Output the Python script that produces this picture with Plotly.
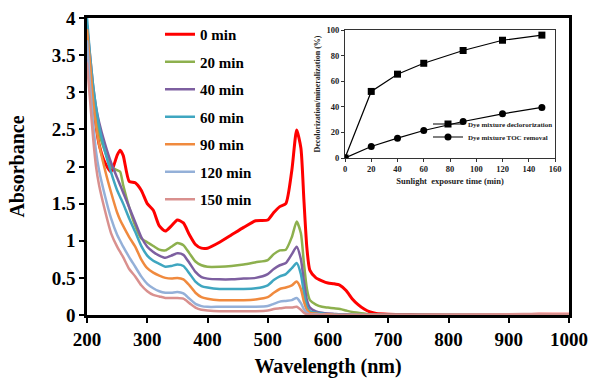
import plotly.graph_objects as go

# ---------------- data ----------------
wavelength = [200, 205, 210, 215, 220, 230, 240, 250, 255, 260, 270, 280, 290, 300, 310, 320, 330, 340, 350, 360,
              370, 380, 390, 400, 420, 440, 460, 480, 500, 510, 520, 530, 540, 548, 555, 560, 565, 570, 580, 590,
              600, 610, 620, 630, 640, 650, 660, 670, 680, 700, 750, 800, 900, 950, 1000]

abs_0 = [3.6, 3.3, 2.9, 2.55, 2.3, 2.05, 1.93, 2.15, 2.22, 2.15, 1.80, 1.78, 1.68, 1.50, 1.41, 1.20, 1.13, 1.20, 1.28, 1.24,
         1.08, 0.95, 0.90, 0.90, 0.98, 1.08, 1.18, 1.27, 1.28, 1.38, 1.46, 1.50, 1.95, 2.49, 2.25, 1.55, 0.90, 0.60, 0.50, 0.46,
         0.43, 0.42, 0.40, 0.33, 0.22, 0.14, 0.08, 0.04, 0.02, 0.01, 0.005, 0.0, 0.0, 0.01, 0.01]
abs_20 = [3.9, 3.3, 2.95, 2.65, 2.45, 2.2, 2.0, 1.95, 1.93, 1.75, 1.45, 1.2, 1.03, 0.98, 0.93, 0.88, 0.87, 0.92, 0.97, 0.94,
          0.83, 0.72, 0.67, 0.65, 0.65, 0.66, 0.68, 0.71, 0.74, 0.82, 0.87, 0.88, 1.05, 1.26, 1.10, 0.70, 0.35, 0.20, 0.14, 0.11,
          0.10, 0.09, 0.08, 0.06, 0.04, 0.03, 0.02, 0.01, 0.005, 0.0, 0.0, 0.0, 0.0, 0.005, 0.005]
abs_40 = [3.9, 3.5, 3.1, 2.8, 2.6, 2.3, 2.05, 1.85, 1.75, 1.65, 1.45, 1.25, 1.05, 0.92, 0.85, 0.80, 0.77, 0.80, 0.83, 0.81,
          0.70, 0.58, 0.51, 0.49, 0.48, 0.48, 0.49, 0.50, 0.55, 0.62, 0.67, 0.70, 0.82, 0.92, 0.75, 0.45, 0.20, 0.10, 0.05, 0.03,
          0.02, 0.015, 0.01, 0.01, 0.005, 0.0, 0.0, 0.0, 0.0, 0.0, 0.0, 0.0, 0.0, 0.0, 0.0]
abs_60 = [4.0, 3.5, 3.1, 2.8, 2.55, 2.2, 1.92, 1.68, 1.59, 1.50, 1.30, 1.12, 0.93, 0.80, 0.73, 0.69, 0.65, 0.66, 0.68, 0.66,
          0.56, 0.45, 0.39, 0.37, 0.35, 0.35, 0.35, 0.36, 0.40, 0.47, 0.52, 0.55, 0.63, 0.70, 0.55, 0.30, 0.12, 0.05, 0.03, 0.02,
          0.01, 0.01, 0.005, 0.0, 0.0, 0.0, 0.0, 0.0, 0.0, 0.0, 0.0, 0.0, 0.0, 0.0, 0.0]
abs_90 = [3.85, 3.4, 2.9, 2.55, 2.3, 1.95, 1.65, 1.38, 1.28, 1.20, 1.05, 0.92, 0.75, 0.63, 0.57, 0.53, 0.50, 0.49, 0.50, 0.48,
          0.40, 0.30, 0.24, 0.22, 0.20, 0.20, 0.20, 0.21, 0.24, 0.30, 0.35, 0.37, 0.40, 0.45, 0.35, 0.18, 0.07, 0.03, 0.02, 0.01,
          0.01, 0.005, 0.0, 0.0, 0.0, 0.0, 0.0, 0.0, 0.0, 0.0, 0.0, 0.0, 0.0, 0.0, 0.0]
abs_120 = [3.7, 3.1, 2.6, 2.2, 1.95, 1.6, 1.3, 1.08, 1.0, 0.92, 0.78, 0.65, 0.52, 0.42, 0.36, 0.32, 0.30, 0.30, 0.31, 0.29,
           0.22, 0.15, 0.12, 0.11, 0.11, 0.11, 0.11, 0.11, 0.12, 0.15, 0.18, 0.19, 0.20, 0.23, 0.16, 0.08, 0.03, 0.01, 0.01, 0.005,
           0.0, 0.0, 0.0, 0.0, 0.0, 0.0, 0.0, 0.0, 0.0, 0.0, 0.0, 0.0, 0.0, 0.005, 0.005]
abs_150 = [3.4, 2.9, 2.4, 2.0, 1.75, 1.4, 1.1, 0.92, 0.85, 0.78, 0.62, 0.52, 0.40, 0.32, 0.27, 0.25, 0.23, 0.23, 0.23, 0.22,
           0.16, 0.10, 0.07, 0.06, 0.05, 0.05, 0.05, 0.05, 0.06, 0.08, 0.09, 0.10, 0.10, 0.11, 0.07, 0.03, 0.01, 0.01, 0.005, 0.005,
           0.0, 0.0, 0.0, 0.0, 0.0, 0.0, 0.0, 0.0, 0.0, 0.0, 0.0, 0.005, 0.01, 0.015, 0.01]

series_names = ["0 min", "20 min", "40 min", "60 min", "90 min", "120 min", "150 min"]
series_colors = ["#FF0000", "#8DB04E", "#7D5FA0", "#3FA6C0", "#F08A3E", "#94B0D8", "#D9908E"]
series_values = [abs_0, abs_20, abs_40, abs_60, abs_90, abs_120, abs_150]

time_min = [0, 20, 40, 60, 90, 120, 150]
decolorization = [0, 52, 65.5, 74, 84, 92, 96]
toc_removal = [0, 9, 15.5, 21.5, 28.5, 34.5, 39.5]

x_ticks = [200, 300, 400, 500, 600, 700, 800, 900, 1000]
y_ticks = [0, 0.5, 1, 1.5, 2, 2.5, 3, 3.5, 4]
inset_x_ticks = [0, 20, 40, 60, 80, 100, 120, 140, 160]
inset_y_ticks = [0, 20, 40, 60, 80, 100]

# ---------------- figure ----------------
W, H = 589, 378
SERIF = "Liberation Serif"
fig = go.Figure()

for i, (name, col, vals) in enumerate(zip(series_names, series_colors, series_values)):
    fig.add_trace(go.Scatter(
        x=wavelength, y=vals, name=name, mode="lines",
        line=dict(color=col, width=3 if i == 0 else 2.5, shape="spline", smoothing=0.6),
        legendgroup=f"g{i}", legend="legend", xaxis="x", yaxis="y"))

fig.add_trace(go.Scatter(
    x=time_min, y=decolorization, name="Dye mixture declororization", mode="lines+markers",
    line=dict(color="black", width=1.2), marker=dict(symbol="square", size=7, color="black"),
    xaxis="x2", yaxis="y2", legend="legend2"))
fig.add_trace(go.Scatter(
    x=time_min, y=toc_removal, name="Dye mixture TOC removal", mode="lines+markers",
    line=dict(color="black", width=1.2), marker=dict(symbol="circle", size=7, color="black"),
    xaxis="x2", yaxis="y2", legend="legend3"))

def px_x(p):
    return p / W

def px_y(p):
    return 1 - p / H

small_legend = dict(xanchor="left", yanchor="middle", bgcolor="rgba(0,0,0,0)", borderwidth=0,
                    font=dict(family=SERIF, size=7, color="#222", weight="bold"), itemwidth=30)

fig.update_layout(
    width=W, height=H,
    margin=dict(l=0, r=0, t=0, b=0),
    paper_bgcolor="white", plot_bgcolor="white",
    font=dict(family=SERIF, color="black"),
    xaxis=dict(
        domain=[px_x(87), px_x(569)], range=[200, 1000], tickvals=x_ticks, automargin=False,
        ticks="outside", ticklen=5, tickwidth=2, tickcolor="black",
        showline=True, linewidth=2.5, linecolor="black", mirror=True,
        showgrid=False, zeroline=False,
        tickfont=dict(family=SERIF, size=19, color="black", weight="bold"),
        title=dict(text="<b>Wavelength (nm)</b>", font=dict(family=SERIF, size=20), standoff=12),
    ),
    yaxis=dict(
        domain=[px_y(315), px_y(18)], range=[0, 4], tickvals=y_ticks, automargin=False,
        ticks="outside", ticklen=5, tickwidth=2, tickcolor="black",
        showline=True, linewidth=2.5, linecolor="black", mirror=True,
        showgrid=False, zeroline=False,
        tickfont=dict(family=SERIF, size=19, color="black", weight="bold"),
        title=dict(text="<b>Absorbance</b>", font=dict(family=SERIF, size=20), standoff=22),
    ),
    xaxis2=dict(
        domain=[px_x(345), px_x(555)], range=[0, 160], tickvals=inset_x_ticks, anchor="y2", automargin=False,
        ticks="outside", ticklen=3, tickwidth=1, tickcolor="#333",
        showline=True, linewidth=1, linecolor="#333", mirror=True,
        showgrid=False, zeroline=False,
        tickfont=dict(family=SERIF, size=8.5, color="#222", weight="bold"),
        title=dict(text="<b>Sunlight  exposure time (min)</b>", font=dict(family=SERIF, size=8.5, color="#222"), standoff=4),
    ),
    yaxis2=dict(
        domain=[px_y(158), px_y(30)], range=[0, 100], tickvals=inset_y_ticks, anchor="x2", automargin=False,
        ticks="outside", ticklen=3, tickwidth=1, tickcolor="#333",
        showline=True, linewidth=1, linecolor="#333", mirror=True,
        showgrid=False, zeroline=False,
        tickfont=dict(family=SERIF, size=8.5, color="#222", weight="bold"),
        title=dict(text="<b>Decolorization/mineralization (%)</b>", font=dict(family=SERIF, size=8, color="#222"), standoff=4),
    ),
    legend=dict(
        x=px_x(160), y=px_y(18), xanchor="left", yanchor="top",
        bgcolor="rgba(0,0,0,0)", borderwidth=0, tracegroupgap=5,
        font=dict(family=SERIF, size=15, color="black", weight="bold"),
        itemwidth=30,
    ),
    legend2=dict(x=px_x(428), y=px_y(124), **small_legend),
    legend3=dict(x=px_x(428), y=px_y(137), **small_legend),
    showlegend=True,
)

fig.write_html("out.html", config={"displayModeBar": False},
               post_script="document.body.style.margin='0';document.body.style.overflow='hidden';")
